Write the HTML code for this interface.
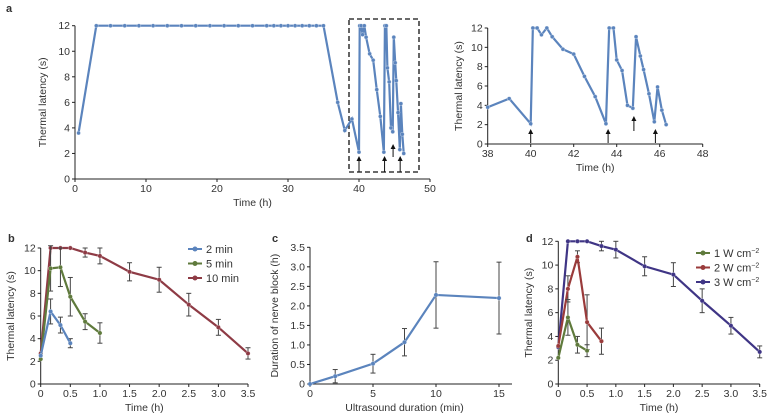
<!DOCTYPE html>
<html><head><meta charset="utf-8"><style>
body{margin:0;background:#fff;}
svg{display:block;font-family:"Liberation Sans",sans-serif;}
text{fill:#333;font-size:10.5px;}
</style></head><body>
<svg id="fig" width="780" height="418" viewBox="0 0 780 418">
<text x="6" y="12" style="font-weight:bold;font-size:11px">a</text>
<text x="8" y="242" style="font-weight:bold;font-size:11px">b</text>
<text x="272" y="242" style="font-weight:bold;font-size:11px">c</text>
<text x="526" y="242" style="font-weight:bold;font-size:11px">d</text>
<rect x="349" y="19" width="70" height="153" fill="none" stroke="#111" stroke-width="1.3" stroke-dasharray="5,3"/>
</svg>
<script>
const aT=[0.5,3,5,7,9,11,13,15,17,19,21,23,25,27,28,29,30,31,32,33,34,35,37,38,39,40,40.1,40.3,40.5,40.75,41,41.5,42,42.5,43,43.5,43.65,43.85,44,44.25,44.5,44.75,44.9,45.1,45.25,45.5,45.75,45.9,46.1,46.3];
const aV=[3.6,12,12,12,12,12,12,12,12,12,12,12,12,12,12,12,12,12,12,12,12,12,6,3.8,4.7,2.1,12,12,11.3,12,11.1,9.8,9.3,7,4.9,2.1,12,12,8.7,7.6,4,3.7,11.1,9.1,7.7,5.2,2.3,5.9,3.5,2];
const arrowT=[40,43.6,44.8,45.8];
const bT2=[0,0.167,0.333,0.5], bV2=[2.5,6.4,5.2,3.6], bE2=[0,1.1,0.7,0.4];
const bT5=[0,0.167,0.333,0.5,0.75,1], bV5=[2.2,10.2,10.3,7.7,5.5,4.5], bE5=[0,2,1.7,1.7,0.7,0.9];
const bT10=[0,0.167,0.333,0.5,0.75,1,1.5,2,2.5,3,3.5], bV10=[2.7,12,12,12,11.6,11.3,9.9,9.2,7,5,2.7], bE10=[0,0,0,0,0.4,0.7,0.8,1.1,1,0.7,0.5];
const cT=[0,2,5,7.5,10,15], cV=[0,0.2,0.52,1.07,2.28,2.2], cE=[0,0.17,0.24,0.35,0.85,0.92];
const dT1=[0,0.167,0.333,0.5], dV1=[2.2,5.6,3.3,2.8], dE1=[0,1.5,0.7,0.5];
const dT2=[0,0.167,0.333,0.5,0.75], dV2=[3.2,8,10.7,5.2,3.6], dE2=[0,1.1,0.5,2.3,1.1];
const dT3=[0,0.167,0.333,0.5,0.75,1,1.5,2,2.5,3,3.5], dV3=[3.1,12,12,12,11.6,11.3,9.9,9.2,7,4.9,2.7], dE3=[0,0,0,0,0.4,0.7,0.8,1,1,0.7,0.5];
const tick12=[0,2,4,6,8,10,12], tickT=[0,0.5,1,1.5,2,2.5,3,3.5], tickTL=["0","0.5","1.0","1.5","2.0","2.5","3.0","3.5"];
const svg=document.getElementById('fig');
const NS='http://www.w3.org/2000/svg';
function mk(tag,at,name){const e=document.createElementNS(NS,tag);for(const k in at)e.setAttribute(k,at[k]);


svg.appendChild(e);return e;}
function axes(p){
 const sx=v=>p.x0+(v-p.xmin)/(p.xmax-p.xmin)*(p.x1-p.x0);
 const sy=v=>p.y0-(v-p.ymin)/(p.ymax-p.ymin)*(p.y0-p.y1);
 mk('line',{x1:p.x0,y1:p.y0,x2:p.x1,y2:p.y0,stroke:'#222','stroke-width':1},p.id+'-x-axis');
 mk('line',{x1:p.x0,y1:p.y0,x2:p.x0,y2:p.y1,stroke:'#222','stroke-width':1},p.id+'-y-axis');
 p.xt.forEach((t,i)=>{mk('line',{x1:sx(t),y1:p.y0,x2:sx(t),y2:p.y0+3,stroke:'#222'},p.id+'-x-tick');
  const tx=mk('text',{x:sx(t),y:p.y0+13,'text-anchor':'middle'},p.id+'-x-tick-label');tx.textContent=p.xl?p.xl[i]:t;});
 p.yt.forEach((t,i)=>{mk('line',{x1:p.x0-3,y1:sy(t),x2:p.x0,y2:sy(t),stroke:'#222'},p.id+'-y-tick');
  const tx=mk('text',{x:p.x0-5,y:sy(t)+3.5,'text-anchor':'end'},p.id+'-y-tick-label');tx.textContent=p.yl?p.yl[i]:t;});
 if(p.xtitle){const t=mk('text',{x:(p.x0+p.x1)/2,y:p.y0+27,'text-anchor':'middle'},p.id+'-x-axis-title');t.textContent=p.xtitle;}
 const yt=mk('text',{x:p.ytx,y:(p.y0+p.y1)/2,'text-anchor':'middle',transform:`rotate(-90 ${p.ytx} ${(p.y0+p.y1)/2})`},p.id+'-y-axis-title');yt.textContent=p.ytitle;
 return {sx,sy};
}
function series(ax,T,V,E,col,name,r){
 if(E)T.forEach((t,i)=>{if(E[i]>0){const x=ax.sx(t);
  mk('line',{x1:x,y1:ax.sy(V[i]-E[i]),x2:x,y2:ax.sy(V[i]+E[i]),stroke:'#444','stroke-width':1},name+'-error-bar');
  [V[i]-E[i],V[i]+E[i]].forEach(v=>mk('line',{x1:x-2.5,y1:ax.sy(v),x2:x+2.5,y2:ax.sy(v),stroke:'#444'},name+'-error-cap'));}});
 mk('polyline',{points:T.map((t,i)=>ax.sx(t)+','+ax.sy(V[i])).join(' '),fill:'none',stroke:col,'stroke-width':2.2},name+'-line');
 T.forEach((t,i)=>mk('circle',{cx:ax.sx(t),cy:ax.sy(V[i]),r:r||2.2,fill:col,stroke:'#fff','stroke-width':0.3},name+'-point'));
}
function arrow(x,yTail,yHead,name){
 mk('line',{x1:x,y1:yTail,x2:x,y2:yHead+3,stroke:'#111','stroke-width':1},name);
 mk('polygon',{points:`${x-2.5},${yHead+4} ${x+2.5},${yHead+4} ${x},${yHead-1}`,fill:'#111'},name+'-head');
}
function legend(x,y,items){items.forEach((it,i)=>{const yy=y+i*14.5;
 mk('line',{x1:x,y1:yy,x2:x+14,y2:yy,stroke:it[1],'stroke-width':2},'legend-entry-line');
 mk('circle',{cx:x+7,cy:yy,r:2.5,fill:it[1]},'legend-entry-marker');
 const t=mk('text',{x:x+18,y:yy+4,style:'font-size:11px'},'legend-entry-label');t.innerHTML=it[0];});}
const blue='#5b84bd';
const A=axes({id:'a-left',x0:75,x1:430,xmin:0,xmax:50,y0:179,y1:25.7,ymin:0,ymax:12,xt:[0,10,20,30,40,50],yt:tick12,xtitle:'Time (h)',ytitle:'Thermal latency (s)',ytx:46});
series(A,aT,aV,null,blue,'a-left-series',2);
arrowT.forEach((t,i)=>arrow(A.sx(t),i==2?157:172,i==2?145:157,'a-left-arrow'));
const rT=[],rV=[];aT.forEach((t,i)=>{if(t>=38){rT.push(t);rV.push(aV[i]);}});
const R=axes({id:'a-right',x0:487.7,x1:702.7,xmin:38,xmax:48,y0:144,y1:28,ymin:0,ymax:12,xt:[38,40,42,44,46,48],yt:tick12,xtitle:'Time (h)',ytitle:'Thermal latency (s)',ytx:462});
series(R,rT,rV,null,blue,'a-right-series',2);
arrowT.forEach((t,i)=>arrow(R.sx(t),i==2?131:143,i==2?117:130,'a-right-arrow'));
const B=axes({id:'b',x0:40.7,x1:248,xmin:0,xmax:3.5,y0:384,y1:248,ymin:0,ymax:12,xt:tickT,xl:tickTL,yt:tick12,xtitle:'Time (h)',ytitle:'Thermal latency (s)',ytx:14});
series(B,bT10,bV10,bE10,'#8e3b45','b-10min');
series(B,bT5,bV5,bE5,'#5f7a3c','b-5min');
series(B,bT2,bV2,bE2,'#5b84bd','b-2min');
legend(188,249,[['2 min','#5b84bd'],['5 min','#5f7a3c'],['10 min','#8e3b45']]);
const C=axes({id:'c',x0:310,x1:499,xmin:0,xmax:15,y0:384,y1:247.3,ymin:0,ymax:3.5,xt:[0,5,10,15],yt:[0,0.5,1,1.5,2,2.5,3,3.5],yl:['0','0.5','1.0','1.5','2.0','2.5','3.0','3.5'],xtitle:'Ultrasound duration (min)',ytitle:'Duration of nerve block (h)',ytx:278});
mk('line',{x1:499,y1:384,x2:512,y2:384,stroke:'#222'},'c-x-axis-extension');
series(C,cT,cV,cE,'#5b84bd','c-series');
const D=axes({id:'d',x0:558.3,x1:759.7,xmin:0,xmax:3.5,y0:384,y1:241.3,ymin:0,ymax:12,xt:tickT,xl:tickTL,yt:tick12,xtitle:'Time (h)',ytitle:'Thermal latency (s)',ytx:532});
series(D,dT3,dV3,dE3,'#3f3585','d-3W');
series(D,dT2,dV2,dE2,'#9a3b3b','d-2W');
series(D,dT1,dV1,dE1,'#5f7a3c','d-1W');
legend(696,253,[['1 W cm<tspan dy="-4" font-size="7">−2</tspan>','#5f7a3c'],['2 W cm<tspan dy="-4" font-size="7">−2</tspan>','#9a3b3b'],['3 W cm<tspan dy="-4" font-size="7">−2</tspan>','#3f3585']]);
</script>
</body></html>
